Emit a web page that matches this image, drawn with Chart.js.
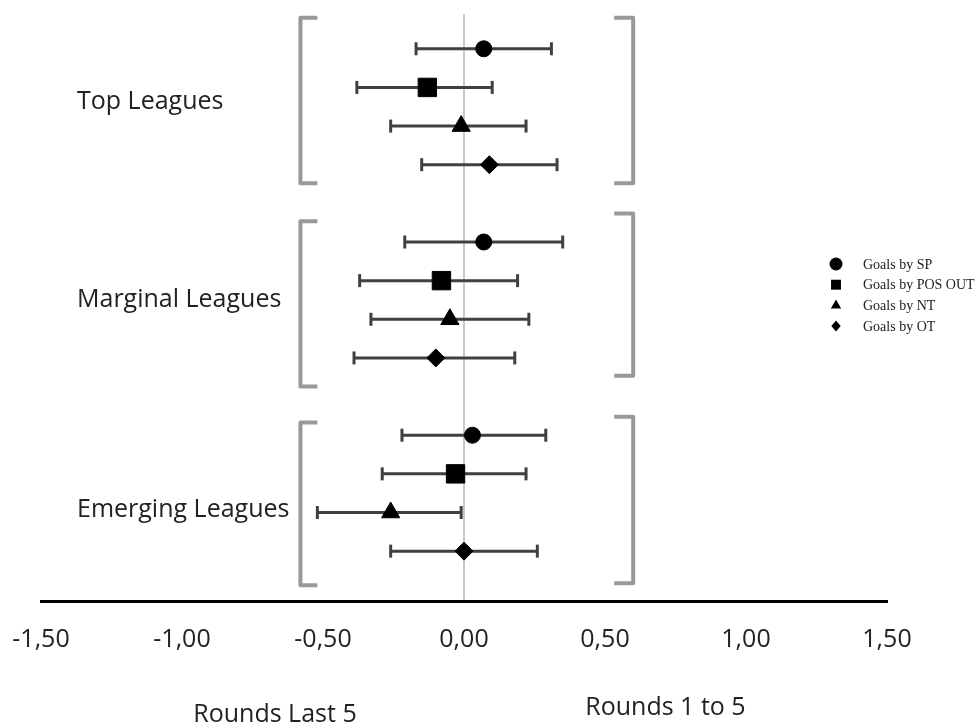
<!DOCTYPE html>
<html>
<head>
<meta charset="utf-8">
<script src="https://cdn.jsdelivr.net/npm/chart.js@4.4.1/dist/chart.umd.min.js"></script>
<style>
  html, body { margin: 0; padding: 0; background: #fff; }
  #wrap { width: 979px; height: 724px; }
</style>
</head>
<body>
<div id="wrap"><canvas id="chart"></canvas></div>
<script>
// Groups and series
const groups = ['Top Leagues', 'Marginal Leagues', 'Emerging Leagues'];
const seriesNames = ['Goals by SP', 'Goals by POS OUT', 'Goals by NT', 'Goals by OT'];
const xTickLabels = ['-1,50', '-1,00', '-0,50', '0,00', '0,50', '1,00', '1,50'];
const halfLabels = ['Rounds Last 5', 'Rounds 1 to 5'];

// Estimate and interval per group (Top, Marginal, Emerging)
const spMean  = [0.07, 0.07, 0.03];
const spLow   = [-0.17, -0.21, -0.22];
const spHigh  = [0.31, 0.35, 0.29];

const posMean = [-0.13, -0.08, -0.03];
const posLow  = [-0.38, -0.37, -0.29];
const posHigh = [0.10, 0.19, 0.22];

const ntMean  = [-0.01, -0.05, -0.26];
const ntLow   = [-0.26, -0.33, -0.52];
const ntHigh  = [0.22, 0.23, -0.01];

const otMean  = [0.09, -0.10, 0.00];
const otLow   = [-0.15, -0.39, -0.26];
const otHigh  = [0.33, 0.18, 0.26];

const means = [spMean, posMean, ntMean, otMean];
const lows  = [spLow, posLow, ntLow, otLow];
const highs = [spHigh, posHigh, ntHigh, otHigh];

// Look
const markerStyle = ['circle', 'rect', 'triangle', 'rectRot'];
const markerSize  = [8, 13, 10.5, 9];
const legendSize  = [6.5, 7, 6, 5.5];
const barColor = '#404040';
const textColor = '#222';
const bigFont = '25px "Open Sans"';

// row of each point: one slot per series, one empty slot between groups
const rowOf = (g, s) => g * 5 + s;

// bracket extents in row units [leftTop, leftBottom, rightTop, rightBottom]
const bracketSpan = [
  [-0.80, 3.48, -0.80, 3.48],
  [4.46, 8.74, 4.26, 8.46],
  [9.67, 13.88, 9.52, 13.83]
];
const bracketX = [-0.58, 0.60];
const groupLabelRow = [1.37, 6.5, 11.92];

const datasets = [];
seriesNames.forEach((name, s) => {
  datasets.push({
    label: name,
    data: groups.map((g, i) => ({ x: means[s][i], y: rowOf(i, s) })),
    pointStyle: markerStyle[s],
    pointRadius: markerSize[s],
    pointHoverRadius: markerSize[s],
    backgroundColor: '#000',
    borderColor: '#000',
    borderWidth: 1,
    showLine: false,
    order: 1
  });
  const bars = [];
  groups.forEach((g, i) => {
    bars.push({ x: lows[s][i], y: rowOf(i, s) });
    bars.push({ x: highs[s][i], y: rowOf(i, s) });
    bars.push({ x: null, y: null });
  });
  datasets.push({
    label: name + ' interval',
    data: bars,
    showLine: true,
    spanGaps: false,
    borderColor: barColor,
    borderWidth: 3,
    pointStyle: 'line',
    pointRadius: 6.5,
    pointHoverRadius: 6.5,
    pointRotation: 90,
    pointBorderWidth: 3,
    pointBorderColor: barColor,
    order: 2
  });
});

function drawMarker(ctx, style, x, y, r) {
  ctx.beginPath();
  if (style === 'circle') {
    ctx.arc(x, y, r, 0, Math.PI * 2);
  } else if (style === 'rect') {
    ctx.rect(x - r * 0.71, y - r * 0.71, r * 1.42, r * 1.42);
  } else if (style === 'triangle') {
    ctx.moveTo(x, y - r);
    ctx.lineTo(x + r * 0.866, y + r * 0.5);
    ctx.lineTo(x - r * 0.866, y + r * 0.5);
    ctx.closePath();
  } else {
    ctx.moveTo(x, y - r);
    ctx.lineTo(x + r * 0.85, y);
    ctx.lineTo(x, y + r);
    ctx.lineTo(x - r * 0.85, y);
    ctx.closePath();
  }
  ctx.fill();
}

const decorations = {
  id: 'decorations',
  afterDraw(chart) {
    const { ctx, scales: { x, y } } = chart;
    ctx.save();

    // brackets round each group
    ctx.strokeStyle = '#999';
    ctx.lineWidth = 4;
    ctx.lineJoin = 'round';
    const xl = x.getPixelForValue(bracketX[0]);
    const xr = x.getPixelForValue(bracketX[1]);
    bracketSpan.forEach(([lt, lb, rt, rb]) => {
      ctx.beginPath();
      ctx.moveTo(xl + 17, y.getPixelForValue(lt));
      ctx.lineTo(xl, y.getPixelForValue(lt));
      ctx.lineTo(xl, y.getPixelForValue(lb));
      ctx.lineTo(xl + 17, y.getPixelForValue(lb));
      ctx.stroke();
      ctx.beginPath();
      ctx.moveTo(xr - 19, y.getPixelForValue(rt));
      ctx.lineTo(xr, y.getPixelForValue(rt));
      ctx.lineTo(xr, y.getPixelForValue(rb));
      ctx.lineTo(xr - 19, y.getPixelForValue(rb));
      ctx.stroke();
    });

    // group names
    ctx.fillStyle = textColor;
    ctx.font = bigFont;
    ctx.textAlign = 'left';
    ctx.textBaseline = 'middle';
    groups.forEach((g, i) => {
      ctx.fillText(g, 77, y.getPixelForValue(groupLabelRow[i]));
    });

    // half captions under the axis
    ctx.textBaseline = 'alphabetic';
    ctx.fillText(halfLabels[0], x.getPixelForValue(-0.96), 722);
    ctx.fillText(halfLabels[1], x.getPixelForValue(0.43), 715);

    // legend
    ctx.font = '14px "Liberation Serif"';
    ctx.textBaseline = 'middle';
    seriesNames.forEach((name, s) => {
      const ly = 264 + s * 20.7;
      ctx.fillStyle = '#000';
      drawMarker(ctx, markerStyle[s], 836, ly, legendSize[s]);
      ctx.fillStyle = textColor;
      ctx.fillText(name, 863, ly + 1);
    });

    ctx.restore();
  }
};

new Chart(document.getElementById('chart'), {
  type: 'scatter',
  data: { datasets },
  options: {
    responsive: true,
    maintainAspectRatio: false,
    animation: false,
    devicePixelRatio: 1,
    layout: { padding: { left: 41, right: 92, top: 12, bottom: 0 } },
    plugins: {
      legend: { display: false },
      tooltip: { enabled: false }
    },
    scales: {
      x: {
        type: 'linear',
        min: -1.5,
        max: 1.5,
        afterFit(scale) {
          scale.height = 123;
          scale.paddingLeft = 0;
          scale.paddingRight = 0;
        },
        ticks: {
          stepSize: 0.5,
          autoSkip: false,
          maxRotation: 0,
          padding: 24,
          color: textColor,
          font: { family: 'Open Sans', size: 25 },
          callback: (v, i) => xTickLabels[i]
        },
        grid: {
          drawTicks: false,
          lineWidth: 2,
          color: (c) => (c.tick && Math.abs(c.tick.value) < 1e-9 ? '#c8c8c8' : 'rgba(0,0,0,0)')
        },
        border: { display: true, color: '#000', width: 3 }
      },
      y: {
        type: 'linear',
        display: false,
        reverse: true,
        min: -0.9,
        max: 14.29
      }
    }
  },
  plugins: [decorations]
});
</script>
</body>
</html>
